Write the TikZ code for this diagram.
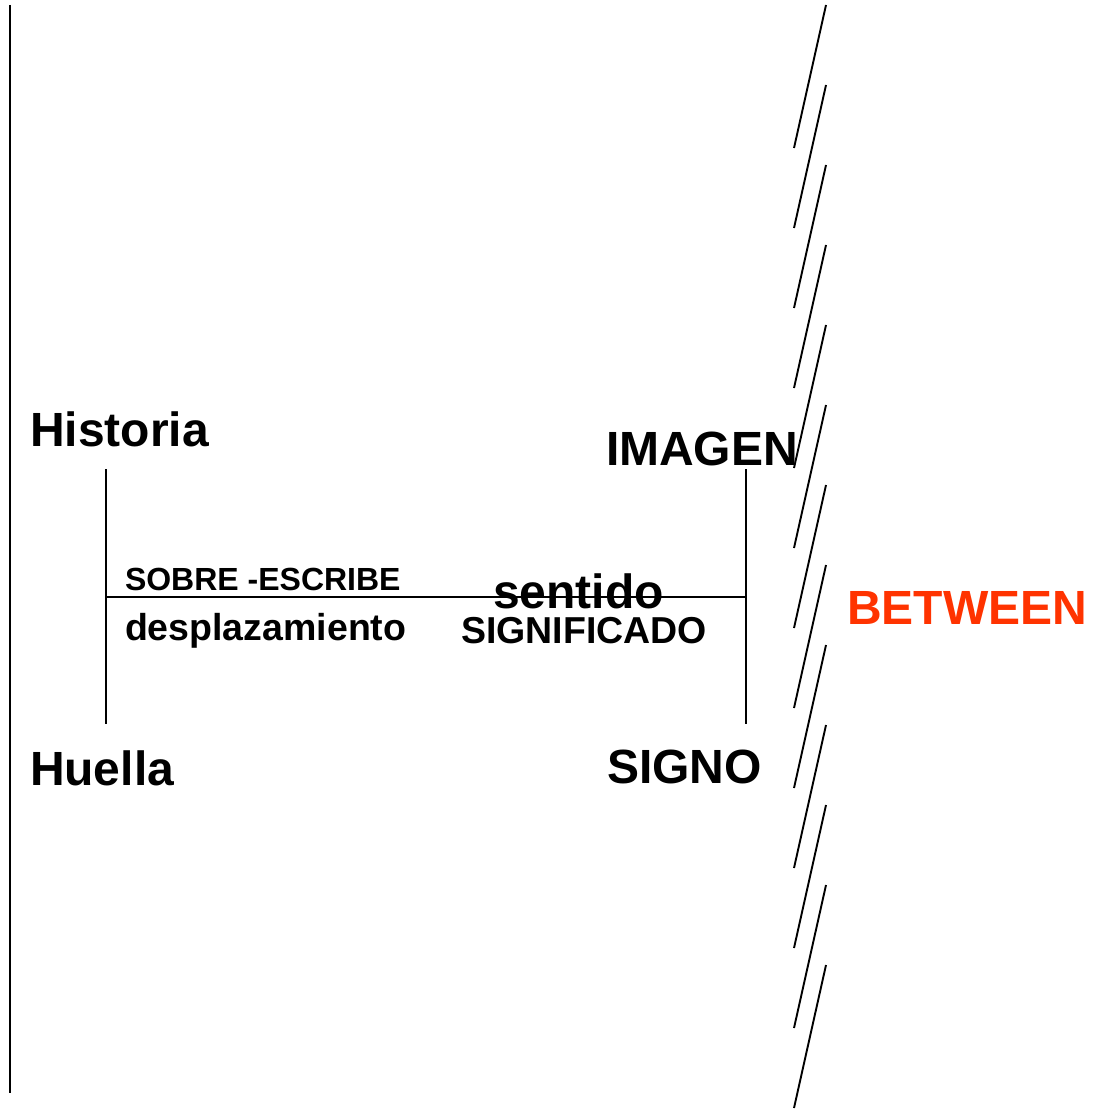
\documentclass[tikz,border=0pt]{standalone}
\usepackage{fontspec}
\setmainfont{Liberation Sans}
\definecolor{betweenred}{HTML}{FF3300}
\begin{document}
\begin{tikzpicture}[x=1pt,y=-1pt,
  rule/.style={line width=1.9pt,black},
  big/.style={anchor=base west,inner sep=0pt,outer sep=0pt,font=\fontsize{48}{56}\selectfont\bfseries},
  mid/.style={anchor=base west,inner sep=0pt,outer sep=0pt,font=\fontsize{37.5}{44}\selectfont\bfseries},
  small/.style={anchor=base west,inner sep=0pt,outer sep=0pt,font=\fontsize{32}{38}\selectfont\bfseries}]
\useasboundingbox (0,0) rectangle (1101,1110);

% left margin rule
\coordinate (mtop) at (10,5);
\coordinate (mbot) at (10,1093);
\draw[rule] (mtop) -- (mbot);

% the H-shaped frame
\coordinate (lt) at (106,469);
\coordinate (lb) at (106,724);
\coordinate (lm) at (106,597);
\coordinate (rt) at (746,469);
\coordinate (rb) at (746,724);
\coordinate (rm) at (746,597);
\draw[rule] (lt) -- (lb);
\draw[rule] (rt) -- (rb);
\draw[rule] (lm) -- (rm);

% broken diagonal wall
\foreach \k in {0,...,12}{
  \coordinate (s\k a) at (794,148+80*\k);
  \coordinate (s\k b) at (826,5+80*\k);
  \draw[rule] (s\k a) -- (s\k b);
}

% labels
\node[big] (historia) at (30,446) {Historia};
\node[big] (huella) at (30,785) {Huella};
\node[big] (imagen) at (606,465) {IMAGEN};
\node[big] (signo) at (607,783) {SIGNO};
\node[small] (sobre) at (125,590) {SOBRE -ESCRIBE};
\node[mid] (despl) at (125,640) {desplazamiento};
\node[big] (sentido) at (493,608) {sentido};
\node[mid] (signif) at (461,643) {SIGNIFICADO};
\node[big,text=betweenred] (between) at (847,624) {BETWEEN};
\end{tikzpicture}
\end{document}
